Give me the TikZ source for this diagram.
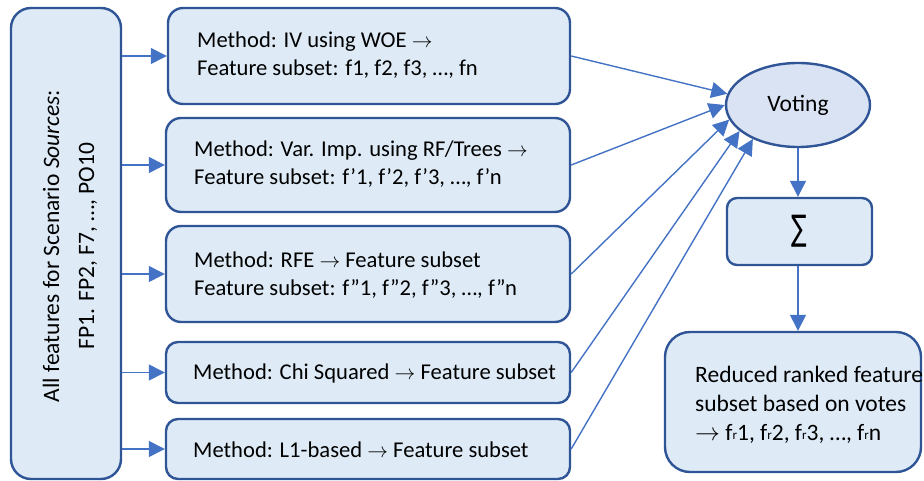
\documentclass[tikz,border=0pt]{standalone}
\usepackage{fontspec}
\usepackage{graphicx}
\setmainfont{Carlito}
\newfontfamily\symfont{DejaVu Sans}
\usetikzlibrary{arrows.meta,shapes.geometric}
\definecolor{boxfill}{HTML}{DEEBF7}
\definecolor{ellfill}{HTML}{DAE3F3}
\definecolor{edgeblue}{HTML}{2F5597}
\definecolor{linkblue}{HTML}{4472C4}
\newcommand{\subr}{\raisebox{0.5pt}{\fontsize{13}{13}\selectfont r}}
\begin{document}
\begin{tikzpicture}[x=1pt,y=-1pt,
  every node/.style={font=\fontsize{23.5}{28}\selectfont},
  panel/.style={draw=edgeblue, fill=boxfill, line width=2.4pt, rectangle,
    rounded corners=#1, inner sep=0pt},
  panel/.default=15pt,
  label text/.style={anchor=west, align=left, inner sep=0pt},
  method text/.style={label text, font=\fontsize{22.6}{28}\selectfont},
  flow/.style={draw=linkblue, line width=1.4pt,
    -{Triangle[length=16pt,width=16pt]}},
]
\useasboundingbox (0,0) rectangle (924,481);

% source column
\node[panel=20pt, minimum width=110pt, minimum height=471pt] (src) at (66,243.5) {};
\node[rotate=90, align=center, font=\fontsize{23.5}{35}\selectfont] (srct) at (70,246)
  {All features for Scenario \textit{Sources}:\\FP1. FP2, F7, …, PO10};

% method boxes
\node[panel, minimum width=402pt, minimum height=96pt] (m1) at (369,56) {};
\node[panel, minimum width=404pt, minimum height=94pt] (m2) at (368,165) {};
\node[panel, minimum width=404pt, minimum height=96pt] (m3) at (368,274) {};
\node[panel=12pt, minimum width=404pt, minimum height=61pt] (m4) at (368,372.5) {};
\node[panel=12pt, minimum width=404pt, minimum height=60pt] (m5) at (368,449) {};

\node[method text] (m1t) at (197,55) {Method: IV using WOE $\rightarrow$\\Feature subset: f1, f2, f3, …, fn};
\node[method text] (m2t) at (194,164) {Method: Var. Imp. using RF/Trees $\rightarrow$\\Feature subset: f’1, f’2, f’3, …, f’n};
\node[method text] (m3t) at (194,275) {Method: RFE $\rightarrow$ Feature subset\\Feature subset: f”1, f”2, f”3, …, f”n};
\node[method text] (m4t) at (193,373) {Method: Chi Squared $\rightarrow$ Feature subset};
\node[method text] (m5t) at (193,450) {Method: L1-based $\rightarrow$ Feature subset};

% voting, summation, result
\node[ellipse, draw=edgeblue, fill=ellfill, line width=2.4pt,
  minimum width=144pt, minimum height=84pt, inner sep=0pt] (vote) at (798,105) {Voting};
\node[panel=10pt, minimum width=145pt, minimum height=67pt] (sum) at (799.5,231.5)
  {\raisebox{-5pt}{\scalebox{1.05}[1.6]{\symfont\fontsize{22}{26}\selectfont ∑}}};
\node[panel=25pt, minimum width=256pt, minimum height=140pt] (res) at (793,402) {};
\node[label text, font=\fontsize{23.5}{28.8}\selectfont] (rest) at (695,405)
  {Reduced ranked feature\\subset based on votes\\$\rightarrow$ f\subr1, f\subr2, f\subr3, …, f\subr n};

% connectors
\foreach \m in {m1,m2,m3,m4,m5}
  \draw[flow] (\m.west -| src.east) -- (\m.west);
\draw[flow] (m1.east) -- (vote.171);
\draw[flow] (m2.east) -- (vote.180);
\draw[flow] (m3.east) -- (vote.192);
\draw[flow] (m4.east) -- (vote.204);
\draw[flow] (m5.east) -- (vote.217);
\draw[flow] (vote.south) -- (vote.south |- sum.north);
\draw[flow] (vote.south |- sum.south) -- (vote.south |- res.north);
\end{tikzpicture}
\end{document}
